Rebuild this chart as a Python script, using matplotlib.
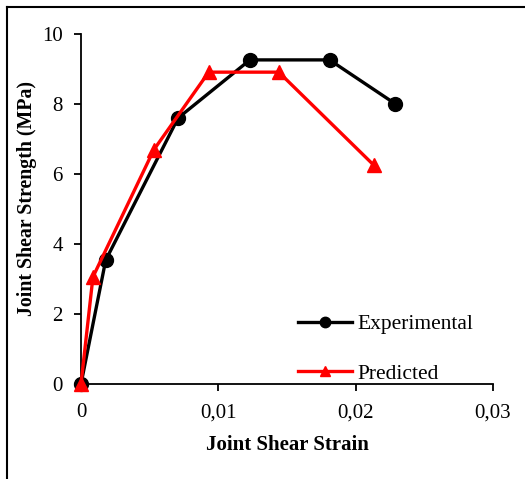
import matplotlib
matplotlib.use("Agg")
import matplotlib.pyplot as plt
from matplotlib.lines import Line2D
from matplotlib.ticker import FuncFormatter

# Joint shear strain vs. strength
exp_strain = [0.0, 0.0018, 0.00707, 0.0123, 0.0181, 0.0229]
exp_strength = [0.0, 3.54, 7.60, 9.26, 9.26, 8.00]

pred_strain = [0.0, 0.00087, 0.0053, 0.0093, 0.0144, 0.0213]
pred_strength = [0.0, 3.06, 6.69, 8.91, 8.91, 6.26]

x_ticks = [0.0, 0.01, 0.02, 0.03]
y_ticks = [0, 2, 4, 6, 8, 10]

plt.rcParams['font.family'] = ['Liberation Serif', 'DejaVu Serif']

fig = plt.figure(figsize=(5.25, 4.79), dpi=100)
ax = fig.add_axes([81 / 525, 1 - 384 / 479, (493 - 81) / 525, (384 - 34) / 479])

ax.plot(exp_strain, exp_strength, color='black', lw=2.4, marker='o',
        markersize=10, label='Experimental', zorder=3, clip_on=False)
ax.plot(pred_strain, pred_strength, color='#ff0000', lw=2.4, marker='^',
        markersize=10, label='Predicted', zorder=4, clip_on=False)

ax.set_xlim(0, 0.03)
ax.set_ylim(0, 10)
ax.set_xticks(x_ticks)
ax.set_yticks(y_ticks)
ax.xaxis.set_major_formatter(FuncFormatter(
    lambda v, p: '0' if v == 0 else f'{v:.2f}'.replace('.', ',')))

for s in ['top', 'right']:
    ax.spines[s].set_visible(False)
for s in ['left', 'bottom']:
    ax.spines[s].set_linewidth(1.3)
ax.tick_params(direction='out', length=5, width=1.3, labelsize=15)
ax.tick_params(axis='x', pad=9)
ax.tick_params(axis='y', pad=8)

ax.set_xlabel('Joint Shear Strain', fontsize=15, fontweight='bold')
ax.xaxis.set_label_coords(0.5, -0.146)
ax.set_ylabel('Joint Shear Strength (MPa)', fontsize=14.3, fontweight='bold')
ax.yaxis.set_label_coords(-0.106, 0.531)

leg = fig.legend(loc='center left', bbox_to_anchor=(298 / 525, 1 - 349 / 479),
                 frameon=False, fontsize=15.5, handlelength=2.5, handletextpad=0.25,
                 labelspacing=1.35, borderpad=0, borderaxespad=0, markerscale=0.75)

# outer frame around the figure
fig.add_artist(Line2D([7 / 525, 1.0], [1 - 7 / 479, 1 - 7 / 479],
                      transform=fig.transFigure, color='black', lw=1.5))
fig.add_artist(Line2D([7 / 525, 7 / 525], [0.0, 1 - 7 / 479],
                      transform=fig.transFigure, color='black', lw=1.5))

fig.savefig('out.png', dpi=100)
